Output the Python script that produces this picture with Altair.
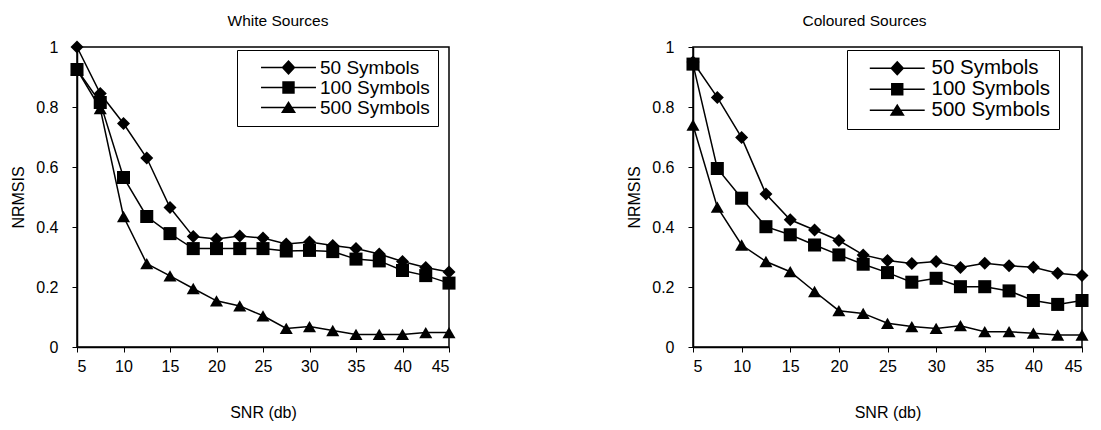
import altair as alt
import pandas as pd

snr = [5, 7.5, 10, 12.5, 15, 17.5, 20, 22.5, 25, 27.5, 30, 32.5, 35, 37.5, 40, 42.5, 45]
series = ["50 Symbols", "100 Symbols", "500 Symbols"]

white_50 = [1.0, 0.845, 0.745, 0.63, 0.465, 0.368, 0.36, 0.37, 0.363, 0.343, 0.35, 0.338, 0.328, 0.31, 0.285, 0.265, 0.25]
white_100 = [0.925, 0.815, 0.565, 0.435, 0.378, 0.328, 0.328, 0.328, 0.328, 0.32, 0.322, 0.318, 0.293, 0.287, 0.255, 0.238, 0.213]
white_500 = [0.925, 0.795, 0.435, 0.278, 0.237, 0.195, 0.154, 0.137, 0.104, 0.062, 0.068, 0.055, 0.042, 0.042, 0.042, 0.048, 0.048]

col_50 = [0.95, 0.832, 0.698, 0.51, 0.424, 0.39, 0.355, 0.307, 0.288, 0.278, 0.285, 0.265, 0.279, 0.271, 0.266, 0.246, 0.238]
col_100 = [0.943, 0.595, 0.496, 0.401, 0.374, 0.34, 0.307, 0.276, 0.248, 0.216, 0.229, 0.201, 0.201, 0.187, 0.155, 0.142, 0.155]
col_500 = [0.74, 0.466, 0.34, 0.285, 0.251, 0.185, 0.121, 0.112, 0.079, 0.068, 0.062, 0.071, 0.051, 0.051, 0.046, 0.04, 0.04]

x_ticks = [5, 10, 15, 20, 25, 30, 35, 40, 45]
y_ticks = [0, 0.2, 0.4, 0.6, 0.8, 1]

marker_shapes = ["diamond", "square", "triangle-up"]
LINE = "M-3.14,-0.09L3.14,-0.09L3.14,0.09L-3.14,0.09Z"
legend_shapes = [
    LINE + "M0,-0.86L0.8,0L0,0.86L-0.8,0Z",
    LINE + "M-0.71,-0.71L0.71,-0.71L0.71,0.71L-0.71,0.71Z",
    LINE + "M0,-0.74L0.86,0.63L-0.86,0.63Z",
]

FONT = "Liberation Sans"


def make_df(v50, v100, v500):
    rows = []
    for name, vals in zip(series, [v50, v100, v500]):
        for s, v in zip(snr, vals):
            rows.append({"snr": s, "val": v, "series": name})
    return pd.DataFrame(rows)


def panel(title, v50, v100, v500, width, lx, ly, fs, so, lo, tdx):
    df = make_df(v50, v100, v500)
    x = alt.X("snr:Q", scale=alt.Scale(domain=[5, 45], nice=False, zero=False),
              axis=alt.Axis(values=x_ticks, title="SNR (db)"))
    y = alt.Y("val:Q", scale=alt.Scale(domain=[0, 1], nice=False),
              axis=alt.Axis(values=y_ticks, format="~g", title="NRMSIS"))
    base = alt.Chart(df).encode(x=x, y=y)
    lines = base.mark_line(color="black", strokeWidth=1.5).encode(
        detail=alt.Detail("series:N"), order=alt.Order("snr:Q"))
    pts = base.mark_point(filled=True, color="black", size=170, opacity=1).encode(
        shape=alt.Shape("series:N", scale=alt.Scale(domain=series, range=marker_shapes), legend=None))
    leg = base.mark_point(filled=True, color="black", opacity=0).encode(
        shape=alt.Shape("series:N", scale=alt.Scale(domain=series, range=legend_shapes),
                        legend=alt.Legend(
                            title=None, orient="none", legendX=lx, legendY=ly,
                            strokeColor="black", fillColor="white", padding=8,
                            symbolSize=306, symbolStrokeWidth=0,
                            symbolFillColor="black",
                            symbolOpacity=1, symbolOffset=so, labelOffset=lo,
                            labelFont=FONT, labelFontSize=fs, labelColor="black",
                            rowPadding=0)))
    return alt.layer(lines, pts, leg).resolve_scale(shape="independent").properties(
        width=width, height=300,
        title=alt.TitleParams(title, fontSize=15.5, font=FONT, fontWeight="normal",
                              color="black", anchor="middle", offset=10, dx=tdx))


left = panel("White Sources", white_50, white_100, white_500, 372, 160, 3, 19, 34, 22, 15)
right = panel("Coloured Sources", col_50, col_100, col_500, 389, 154, 3, 20.5, 32, 24, -23)

chart = alt.hconcat(left, right, spacing=167).configure_view(
    stroke="black", strokeWidth=1.5
).configure_axis(
    grid=False, domainColor="black", domainWidth=1.5, tickColor="black", tickWidth=1,
    tickSize=5, labelColor="black", titleColor="black", labelFont=FONT, titleFont=FONT,
    labelFontSize=16, titleFontSize=16, titleFontWeight="normal"
).configure_axisX(
    labelPadding=6, titlePadding=30
).configure_axisY(
    labelPadding=14, titlePadding=9
).properties(background="white", padding={"left": 2, "top": 4, "right": 0, "bottom": 0})

chart.save("out.html", embed_options={"renderer": "svg", "actions": False})
